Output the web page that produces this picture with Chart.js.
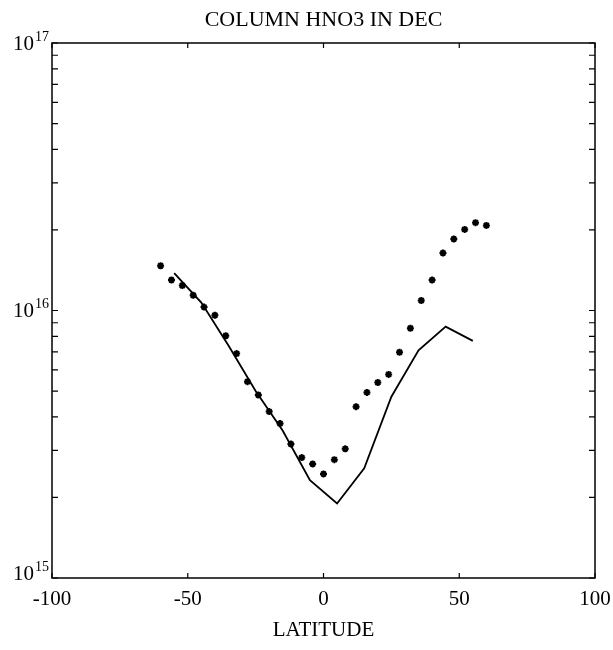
<!DOCTYPE html>
<html>
<head>
<meta charset="utf-8">
<script src="https://cdn.jsdelivr.net/npm/chart.js@4.4.1/dist/chart.umd.min.js"></script>
<style>
  html, body { margin: 0; padding: 0; background: #fff; }
  #wrap { width: 613px; height: 650px; }
</style>
</head>
<body>
<div id="wrap"><canvas id="hno3Chart" width="613" height="650"></canvas></div>
<script>
// observed column HNO3 (stars), every 4 degrees
const obsLat = [-60, -56, -52, -48, -44, -40, -36, -32, -28, -24, -20, -16, -12, -8, -4, 0,
                4, 8, 12, 16, 20, 24, 28, 32, 36, 40, 44, 48, 52, 56, 60];
const obsColumn = [1.47e16, 1.30e16, 1.24e16, 1.14e16, 1.03e16, 9.6e15, 8.05e15, 6.9e15, 5.42e15, 4.83e15,
                   4.19e15, 3.78e15, 3.17e15, 2.82e15, 2.67e15, 2.45e15,
                   2.77e15, 3.04e15, 4.37e15, 4.94e15, 5.38e15, 5.77e15, 6.98e15, 8.58e15, 1.09e16,
                   1.30e16, 1.64e16, 1.85e16, 2.01e16, 2.13e16, 2.08e16];

// model column HNO3 (solid line), every 10 degrees
const modelLat = [-55, -45, -35, -25, -15, -5, 5, 15, 25, 35, 45, 55];
const modelColumn = [1.38e16, 1.07e16, 7.4e15, 5.0e15, 3.55e15, 2.32e15, 1.9e15, 2.57e15, 4.76e15, 7.1e15, 8.7e15, 7.7e15];

// axis ticks
const xTicks = [-100, -50, 0, 50, 100];
const yDecades = [15, 16, 17];
const minorMults = [2, 3, 4, 5, 6, 7, 8, 9];

const serif = '"Liberation Serif", "Times New Roman", serif';

// frame, inward ticks and all the labels
const framePlugin = {
    id: 'frame',
    afterDraw(chart) {
        const ctx = chart.ctx;
        const xs = chart.scales.x;
        const ys = chart.scales.y;
        const a = chart.chartArea;
        ctx.save();
        ctx.strokeStyle = '#000';
        ctx.lineWidth = 1.5;
        ctx.strokeRect(a.left, a.top, a.right - a.left, a.bottom - a.top);

        // x ticks top and bottom
        ctx.lineWidth = 1.2;
        ctx.beginPath();
        xTicks.forEach(v => {
            const px = xs.getPixelForValue(v);
            ctx.moveTo(px, a.bottom); ctx.lineTo(px, a.bottom - 5);
            ctx.moveTo(px, a.top); ctx.lineTo(px, a.top + 5);
        });
        // y minor + major ticks left and right
        yDecades.forEach(d => {
            const vals = d < 17 ? minorMults.map(m => m * Math.pow(10, d)) : [];
            vals.push(Math.pow(10, d));
            vals.forEach(v => {
                const py = ys.getPixelForValue(v);
                ctx.moveTo(a.left, py); ctx.lineTo(a.left + 6, py);
                ctx.moveTo(a.right, py); ctx.lineTo(a.right - 6, py);
            });
        });
        ctx.stroke();

        ctx.fillStyle = '#000';
        // x tick labels
        ctx.font = '21px ' + serif;
        ctx.textAlign = 'center';
        ctx.textBaseline = 'alphabetic';
        xTicks.forEach(v => {
            ctx.fillText(String(v), xs.getPixelForValue(v), a.bottom + 27);
        });

        // y labels: 10 with exponent
        yDecades.forEach(d => {
            let py = ys.getPixelForValue(Math.pow(10, d));
            if (d === 15) py -= 5;
            ctx.font = '21px ' + serif;
            ctx.textAlign = 'left';
            ctx.textBaseline = 'middle';
            const baseW = ctx.measureText('10').width;
            const sup = String(d);
            ctx.font = '14px ' + serif;
            const supW = ctx.measureText(sup).width;
            const x0 = a.left - 4 - supW - baseW;
            ctx.font = '21px ' + serif;
            ctx.fillText('10', x0, py + 1);
            ctx.font = '14px ' + serif;
            ctx.fillText(sup, x0 + baseW + 1, py - 6);
        });

        // titles
        ctx.textAlign = 'center';
        ctx.textBaseline = 'alphabetic';
        ctx.font = '22px ' + serif;
        ctx.fillText('COLUMN HNO3 IN DEC', (a.left + a.right) / 2, 26);
        ctx.font = '21px ' + serif;
        ctx.fillText('LATITUDE', (a.left + a.right) / 2, 636);
        ctx.restore();
    }
};

const obsPoints = obsLat.map((lat, i) => ({ x: lat, y: obsColumn[i] }));
const modelPoints = modelLat.map((lat, i) => ({ x: lat, y: modelColumn[i] }));

const chart = new Chart(document.getElementById('hno3Chart').getContext('2d'), {
    type: 'scatter',
    data: {
        datasets: [{
            label: 'model',
            data: modelPoints,
            showLine: true,
            borderColor: '#000',
            borderWidth: 1.8,
            pointRadius: 0,
            tension: 0
        }, {
            label: 'observed',
            data: obsPoints,
            pointStyle: 'star',
            pointRadius: 3.5,
            borderWidth: 2,
            borderColor: '#000',
            backgroundColor: '#000'
        }]
    },
    options: {
        responsive: false,
        animation: false,
        layout: { padding: { top: 43, right: 18, left: 0, bottom: 0 } },
        plugins: {
            legend: { display: false },
            title: { display: false },
            tooltip: { enabled: false }
        },
        scales: {
            x: {
                type: 'linear',
                min: -100,
                max: 100,
                grid: { display: false },
                border: { display: false },
                ticks: { display: false },
                afterFit: function(scale) { scale.height = 72; }
            },
            y: {
                type: 'logarithmic',
                min: 1e15,
                max: 1e17,
                grid: { display: false },
                border: { display: false },
                ticks: { display: false },
                afterFit: function(scale) { scale.width = 52; }
            }
        }
    },
    plugins: [framePlugin]
});
</script>
</body>
</html>
